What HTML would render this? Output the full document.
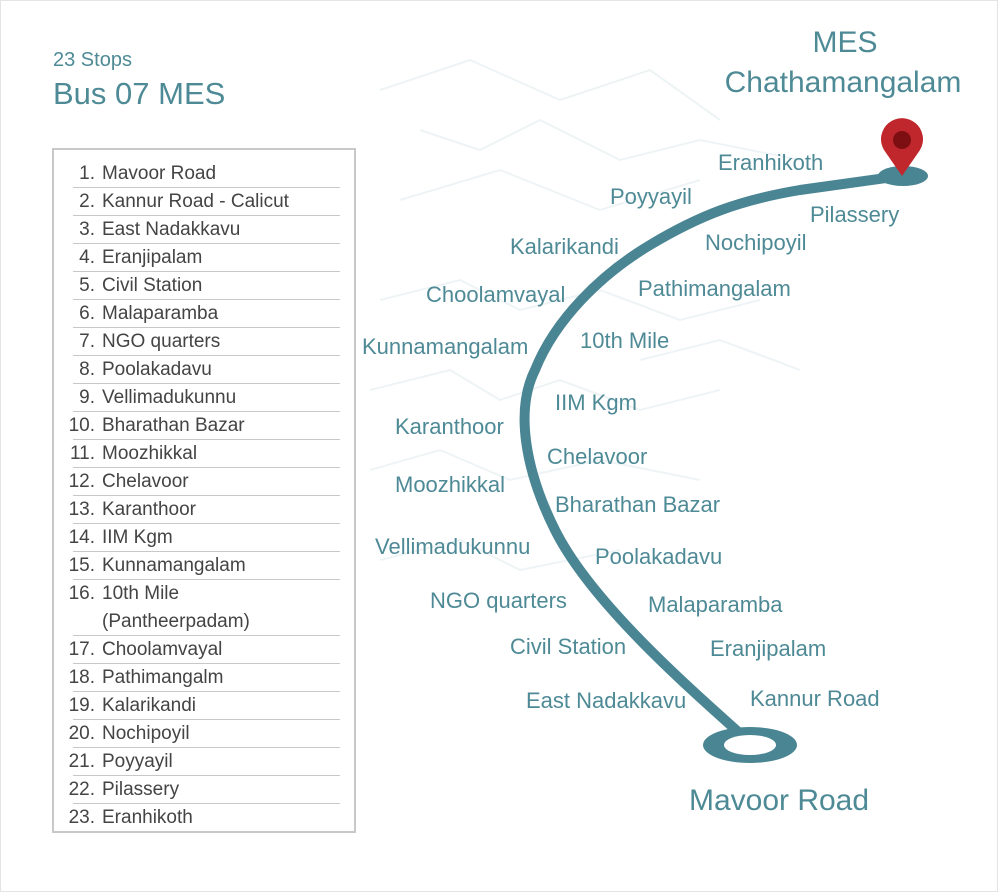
<!DOCTYPE html>
<html><head><meta charset="utf-8"><style>
html,body{margin:0;padding:0;background:#fff;}
svg{display:block;font-family:"Liberation Sans",sans-serif;}
</style></head><body>
<svg width="998" height="892" viewBox="0 0 998 892" xmlns="http://www.w3.org/2000/svg">
<rect x="0.5" y="0.5" width="997" height="891" fill="#fff" stroke="#e4e4e4"/>
<g stroke="#eef4f5" stroke-width="2" fill="none">
<path d="M380,90 L470,60 L560,100 L650,70 L720,120"/>
<path d="M400,200 L500,170 L600,210 L700,180"/>
<path d="M380,300 L460,280 L520,310 L600,290 L680,320 L760,300"/>
<path d="M370,390 L450,370 L500,400 L560,380 L640,410 L720,390"/>
<path d="M370,470 L440,450 L510,480 L600,460 L700,480"/>
<path d="M380,560 L460,540 L520,570 L620,550"/>
<path d="M420,130 L480,150 L540,120 L620,160 L700,140 L800,160"/>
<path d="M640,360 L720,340 L800,370"/>
</g>
<text x="53" y="66" font-size="20" fill="#4e8a96">23 Stops</text>
<text x="53" y="104" font-size="31" fill="#4e8a96">Bus 07 MES</text>
<text x="845" y="52" font-size="30" fill="#4e8a96" text-anchor="middle">MES</text>
<text x="843" y="92" font-size="30" fill="#4e8a96" text-anchor="middle">Chathamangalam</text>
<rect x="53" y="149" width="302" height="683" fill="#fff" stroke="#c8c8c8" stroke-width="2"/>
<g font-size="19" fill="#444">
<g text-anchor="end">
<text x="95" y="179">1.</text><text x="95" y="207">2.</text><text x="95" y="235">3.</text><text x="95" y="263">4.</text><text x="95" y="291">5.</text><text x="95" y="319">6.</text><text x="95" y="347">7.</text><text x="95" y="375">8.</text><text x="95" y="403">9.</text><text x="95" y="431">10.</text><text x="95" y="459">11.</text><text x="95" y="487">12.</text><text x="95" y="515">13.</text><text x="95" y="543">14.</text><text x="95" y="571">15.</text><text x="95" y="599">16.</text><text x="95" y="655">17.</text><text x="95" y="683">18.</text><text x="95" y="711">19.</text><text x="95" y="739">20.</text><text x="95" y="767">21.</text><text x="95" y="795">22.</text><text x="95" y="823">23.</text>
</g>
<text x="102" y="179">Mavoor Road</text><text x="102" y="207">Kannur Road - Calicut</text><text x="102" y="235">East Nadakkavu</text><text x="102" y="263">Eranjipalam</text><text x="102" y="291">Civil Station</text><text x="102" y="319">Malaparamba</text><text x="102" y="347">NGO quarters</text><text x="102" y="375">Poolakadavu</text><text x="102" y="403">Vellimadukunnu</text><text x="102" y="431">Bharathan Bazar</text><text x="102" y="459">Moozhikkal</text><text x="102" y="487">Chelavoor</text><text x="102" y="515">Karanthoor</text><text x="102" y="543">IIM Kgm</text><text x="102" y="571">Kunnamangalam</text><text x="102" y="599">10th Mile</text><text x="102" y="627">(Pantheerpadam)</text><text x="102" y="655">Choolamvayal</text><text x="102" y="683">Pathimangalm</text><text x="102" y="711">Kalarikandi</text><text x="102" y="739">Nochipoyil</text><text x="102" y="767">Poyyayil</text><text x="102" y="795">Pilassery</text><text x="102" y="823">Eranhikoth</text>
</g>
<g stroke="#c8c8c8" stroke-width="1">
<line x1="73" y1="187.5" x2="340" y2="187.5"/><line x1="73" y1="215.5" x2="340" y2="215.5"/><line x1="73" y1="243.5" x2="340" y2="243.5"/><line x1="73" y1="271.5" x2="340" y2="271.5"/><line x1="73" y1="299.5" x2="340" y2="299.5"/><line x1="73" y1="327.5" x2="340" y2="327.5"/><line x1="73" y1="355.5" x2="340" y2="355.5"/><line x1="73" y1="383.5" x2="340" y2="383.5"/><line x1="73" y1="411.5" x2="340" y2="411.5"/><line x1="73" y1="439.5" x2="340" y2="439.5"/><line x1="73" y1="467.5" x2="340" y2="467.5"/><line x1="73" y1="495.5" x2="340" y2="495.5"/><line x1="73" y1="523.5" x2="340" y2="523.5"/><line x1="73" y1="551.5" x2="340" y2="551.5"/><line x1="73" y1="579.5" x2="340" y2="579.5"/><line x1="73" y1="635.5" x2="340" y2="635.5"/><line x1="73" y1="663.5" x2="340" y2="663.5"/><line x1="73" y1="691.5" x2="340" y2="691.5"/><line x1="73" y1="719.5" x2="340" y2="719.5"/><line x1="73" y1="747.5" x2="340" y2="747.5"/><line x1="73" y1="775.5" x2="340" y2="775.5"/><line x1="73" y1="803.5" x2="340" y2="803.5"/>
</g>
<path d="M745,738 C680,680 590,600 555,530 C525,470 515,410 535,370 C555,320 600,275 650,245 C700,215 740,200 800,190 L900,176" fill="none" stroke="#4a8594" stroke-width="10" stroke-linecap="round"/>
<ellipse cx="903" cy="176" rx="25" ry="10" fill="#4a8594"/>
<ellipse cx="750" cy="745" rx="47" ry="18" fill="#4a8594"/>
<ellipse cx="750" cy="745" rx="26" ry="10" fill="#fff"/>
<path d="M902,176 L884,150 A21,21 0 1 1 920,150 Z" fill="#c0272d"/>
<circle cx="902" cy="140" r="9" fill="#7d0f12"/>
<g font-size="22" fill="#4e8a96">
<text x="718" y="170">Eranhikoth</text>
<text x="610" y="204">Poyyayil</text>
<text x="810" y="222">Pilassery</text>
<text x="510" y="254">Kalarikandi</text>
<text x="705" y="250">Nochipoyil</text>
<text x="426" y="302">Choolamvayal</text>
<text x="638" y="296">Pathimangalam</text>
<text x="362" y="354">Kunnamangalam</text>
<text x="580" y="348">10th Mile</text>
<text x="555" y="410">IIM Kgm</text>
<text x="395" y="434">Karanthoor</text>
<text x="547" y="464">Chelavoor</text>
<text x="395" y="492">Moozhikkal</text>
<text x="555" y="512">Bharathan Bazar</text>
<text x="375" y="554">Vellimadukunnu</text>
<text x="595" y="564">Poolakadavu</text>
<text x="430" y="608">NGO quarters</text>
<text x="648" y="612">Malaparamba</text>
<text x="510" y="654">Civil Station</text>
<text x="710" y="656">Eranjipalam</text>
<text x="526" y="708">East Nadakkavu</text>
<text x="750" y="706">Kannur Road</text>
</g>
<text x="779" y="810" font-size="30" fill="#4e8a96" text-anchor="middle">Mavoor Road</text>
</svg>
</body></html>
